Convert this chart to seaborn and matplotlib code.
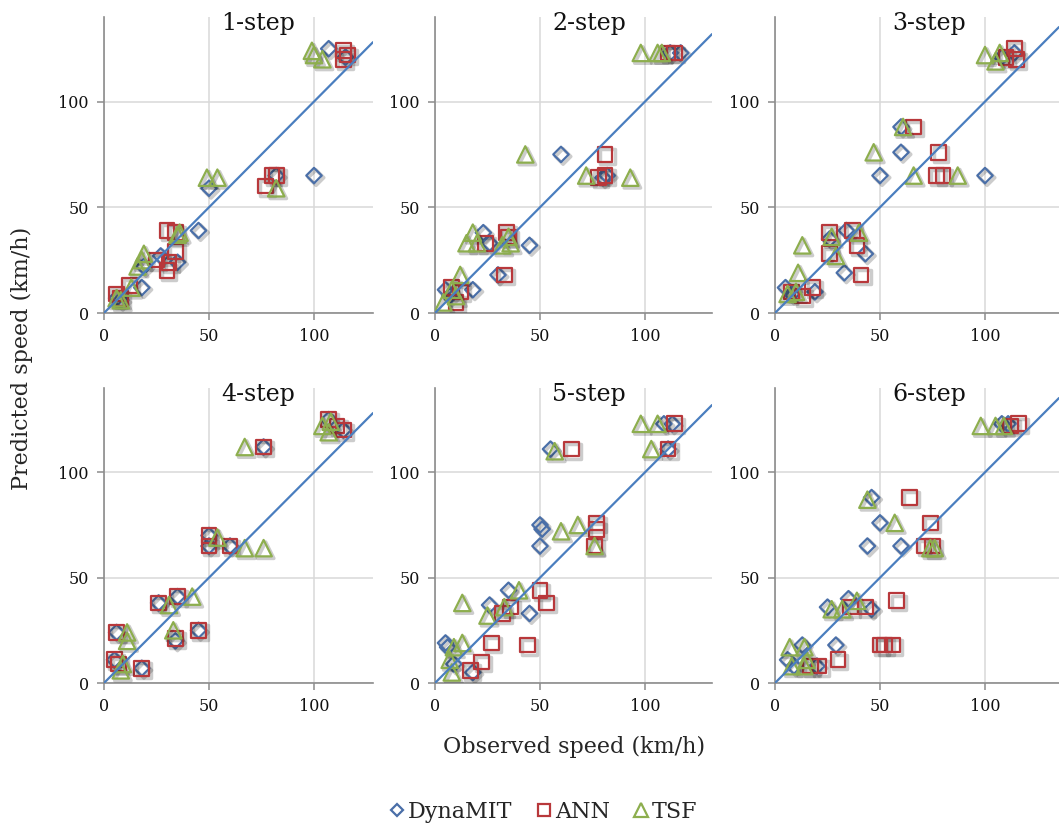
import pandas as pd
import seaborn as sns
import matplotlib.pyplot as plt
from matplotlib import patheffects as pe
from matplotlib.lines import Line2D
from matplotlib.transforms import blended_transform_factory

steps = ["1-step", "2-step", "3-step", "4-step", "5-step", "6-step"]
models = ["DynaMIT", "ANN", "TSF"]

# (observed, predicted) pairs, one list per horizon
dynamit = [
    [(107, 125), (115, 121), (50, 59), (82, 65), (100, 65), (45, 39), (35, 24), (27, 27),
     (19, 22), (18, 12), (6, 7), (8, 6)],
    [(112, 123), (117, 123), (60, 75), (82, 65), (80, 64), (45, 32), (23, 38), (26, 33),
     (30, 18), (18, 11), (5, 11), (7, 8)],
    [(108, 121), (114, 123), (60, 88), (60, 76), (50, 65), (100, 65), (26, 35), (34, 39),
     (43, 28), (33, 19), (5, 12), (19, 10), (8, 9)],
    [(107, 125), (114, 120), (76, 112), (50, 70), (50, 65), (60, 65), (26, 38), (35, 41),
     (34, 20), (45, 25), (6, 24), (5, 11), (18, 7)],
    [(109, 123), (113, 123), (111, 111), (55, 111), (50, 75), (51, 73), (50, 65), (35, 44),
     (26, 37), (45, 33), (5, 19), (6, 17), (9, 9), (18, 5)],
    [(108, 123), (111, 123), (46, 88), (50, 76), (44, 65), (60, 65), (25, 36), (35, 40),
     (46, 35), (29, 18), (13, 18), (6, 11), (9, 8), (20, 8)],
]
ann = [
    [(114, 124), (116, 122), (114, 120), (77, 60), (80, 65), (82, 65), (30, 39), (34, 38),
     (34, 29), (25, 25), (31, 24), (30, 20), (12, 13), (6, 9), (8, 7)],
    [(111, 123), (114, 123), (81, 75), (78, 64), (81, 65), (34, 38), (35, 36), (24, 33),
     (33, 18), (8, 12), (12, 10), (10, 5)],
    [(110, 121), (114, 125), (115, 120), (66, 88), (78, 76), (77, 65), (80, 65), (26, 38),
     (26, 28), (37, 39), (39, 32), (41, 18), (18, 12), (13, 8), (8, 10)],
    [(107, 125), (111, 122), (114, 120), (76, 112), (50, 70), (50, 65), (60, 65), (26, 38),
     (35, 41), (34, 21), (45, 25), (6, 24), (5, 11), (7, 9), (18, 7)],
    [(114, 123), (111, 111), (65, 111), (77, 76), (77, 73), (76, 65), (50, 44), (53, 38),
     (32, 33), (36, 36), (27, 19), (44, 18), (22, 10), (17, 6)],
    [(112, 122), (116, 123), (64, 88), (74, 76), (71, 65), (75, 65), (36, 36), (43, 36),
     (58, 39), (50, 18), (52, 18), (56, 18), (30, 11), (17, 8), (21, 8)],
]
tsf = [
    [(99, 124), (100, 122), (104, 120), (49, 64), (54, 64), (82, 59), (35, 37), (36, 38),
     (19, 28), (18, 25), (16, 22), (13, 12), (6, 7), (8, 6)],
    [(98, 123), (106, 123), (108, 123), (43, 75), (72, 65), (93, 64), (18, 38), (15, 33),
     (20, 33), (35, 36), (32, 32), (36, 33), (12, 18), (8, 11), (10, 8), (4, 5)],
    [(100, 122), (105, 119), (107, 123), (61, 88), (47, 76), (66, 65), (87, 65), (27, 36),
     (29, 27), (13, 32), (40, 38), (11, 19), (6, 9), (10, 10)],
    [(104, 122), (107, 119), (108, 124), (67, 112), (54, 69), (67, 64), (76, 64), (31, 37),
     (42, 41), (33, 25), (11, 24), (11, 20), (9, 9), (8, 6)],
    [(98, 123), (106, 123), (103, 111), (57, 110), (60, 72), (68, 75), (76, 65), (13, 38),
     (40, 44), (25, 32), (33, 36), (9, 17), (13, 19), (7, 11), (8, 5)],
    [(98, 122), (105, 122), (109, 122), (44, 87), (57, 76), (74, 64), (76, 64), (27, 35),
     (32, 35), (39, 39), (7, 17), (14, 17), (15, 11), (8, 8), (14, 8)],
]

rows = []
for model, series in zip(models, [dynamit, ann, tsf]):
    for step, pts in zip(steps, series):
        for obs, pred in pts:
            rows.append({"step": step, "model": model, "observed": obs, "predicted": pred})
df = pd.DataFrame(rows)

# marker, area (pt^2), edge colour, legend marker size
marker_style = {
    "DynaMIT": ("D", 62, "#4a6fa8", 6.5),
    "ANN": ("s", 112, "#b8383b", 9),
    "TSF": ("^", 140, "#8dae4e", 9.5),
}

sns.set_theme(style="white")
plt.rcParams["font.family"] = ["DejaVu Serif"]

W, H = 1059, 826
fig = plt.figure(figsize=(W / 100, H / 100), dpi=100)

col_left = [104, 435, 775]
col_width = [269, 277, 284]
row_top = [17, 388]
row_height = [296, 295]
px_per_unit = 2.1

for i, step in enumerate(steps):
    r, c = divmod(i, 3)
    ax = fig.add_axes([col_left[c] / W, 1 - (row_top[r] + row_height[r]) / H,
                       col_width[c] / W, row_height[r] / H])
    ax.set_xlim(0, col_width[c] / px_per_unit)
    ax.set_ylim(0, 140)
    ax.set_xticks([0, 50, 100])
    ax.set_yticks([0, 50, 100])
    ax.grid(True, color="#d9d9d9", lw=1.1)
    ax.set_axisbelow(True)
    for side in ["top", "right"]:
        ax.spines[side].set_visible(False)
    for side in ["left", "bottom"]:
        ax.spines[side].set_color("#8c8c8c")
        ax.spines[side].set_linewidth(1.2)
    ax.tick_params(bottom=True, left=True, length=5, width=1.1, color="#8c8c8c",
                   labelsize=11.5, pad=6, labelcolor="#111111")

    for model in models:
        marker, size, color, _ = marker_style[model]
        sub = df[(df["step"] == step) & (df["model"] == model)]
        sns.scatterplot(data=sub, x="observed", y="predicted", ax=ax, marker=marker, s=size,
                        facecolor="none", edgecolor=color, linewidth=1.6,
                        legend=False, zorder=3)
        ax.collections[-1].set_path_effects([
            pe.SimpleLineShadow(offset=(1.5, -1.5), shadow_color="k", alpha=0.22, linewidth=2.5),
            pe.Normal()])

    ax.axline((0, 0), slope=1, color="#4a7ebf", lw=1.6, zorder=4)
    ax.set_xlabel("")
    ax.set_ylabel("")

    trans = blended_transform_factory(ax.transData, ax.transAxes)
    ax.text(73.3, 1 - 6 / row_height[r], step, transform=trans, ha="center", va="center",
            fontsize=17, color="#111111")

fig.text(574 / W, 1 - 747 / H, "Observed speed (km/h)", ha="center", va="center", fontsize=16)
fig.text(22 / W, 1 - 358 / H, "Predicted speed (km/h)", ha="center", va="center",
         rotation=90, fontsize=16)

handles = [Line2D([], [], ls="none", marker=marker_style[m][0], ms=marker_style[m][3],
                  mfc="none", mec=marker_style[m][2], mew=1.6) for m in models]
fig.legend(handles, models, loc="center", bbox_to_anchor=(543 / W, 1 - 812 / H), ncol=3,
           frameon=False, fontsize=16, handletextpad=0.1, columnspacing=1.0,
           handlelength=0.8)

fig.savefig("out.png", dpi=100)
